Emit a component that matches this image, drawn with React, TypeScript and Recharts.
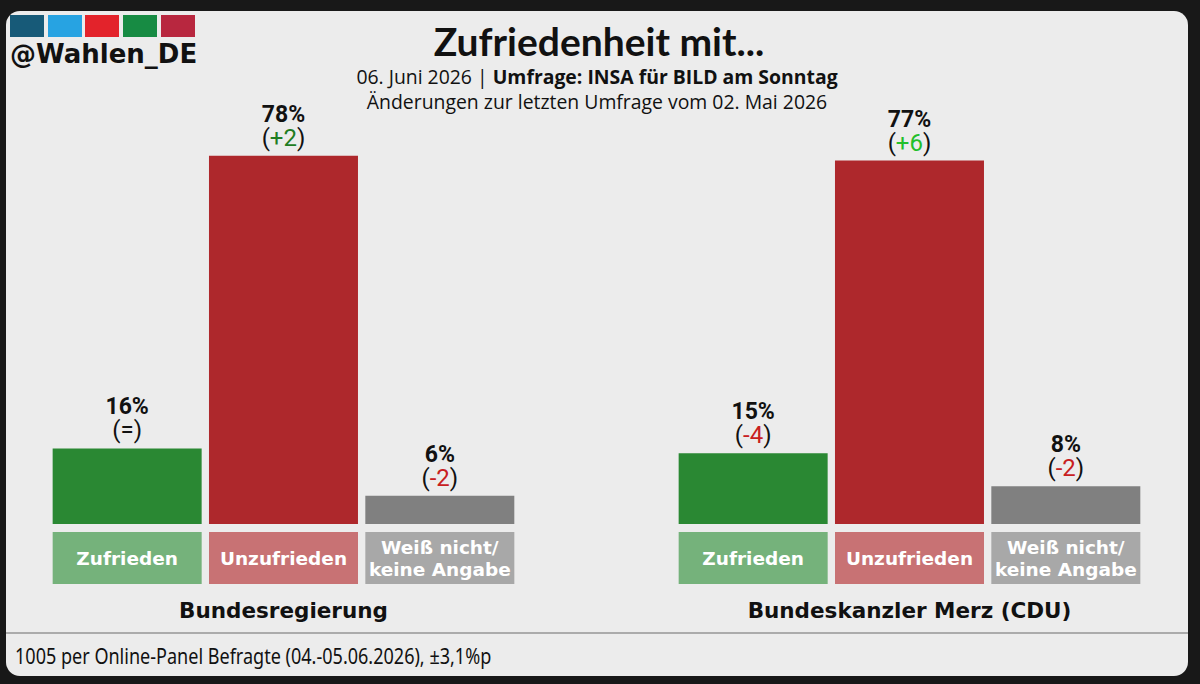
import { BarChart, Bar, XAxis, YAxis, Cell, LabelList } from 'recharts';

const categories = ['Zufrieden', 'Unzufrieden', 'Weiß nicht/\nkeine Angabe'];
const groupTitles = ['Bundesregierung', 'Bundeskanzler Merz (CDU)'];
const regierungValues = [16, 78, 6];
const regierungChanges = ['=', '+2', '-2'];
const merzValues = [15, 77, 8];
const merzChanges = ['-4', '+6', '-2'];
const logoColors = ['#175a78', '#27a3e2', '#e3232b', '#178b43', '#b8273f'];

const BAR_COLORS = ['#2a8833', '#ae282c', '#808080'];
const BOX_COLORS = ['#75b27b', '#c87274', '#a8a8a8'];
const BAR_W = 149;
const WIDE_FONT = '"DejaVu Sans", sans-serif';

function changeColor(c: string) {
  if (c === '=') return '#111';
  const n = parseInt(c, 10);
  if (n < 0) return '#c8201f';
  return n >= 5 ? '#22bf2a' : '#1f7d22';
}

function CategoryTick(props: any) {
  const { x, y, payload } = props;
  const lines = String(payload.value).split('\n');
  return (
    <g>
      <rect x={x - BAR_W / 2} y={y} width={BAR_W} height={52} fill={BOX_COLORS[payload.index]} />
      {lines.length === 1 ? (
        <text x={x} y={y + 33} textAnchor="middle" fill="#fff" fontFamily={WIDE_FONT} fontWeight={700} fontSize={18.5}>
          {lines[0]}
        </text>
      ) : (
        lines.map((l, i) => (
          <text key={i} x={x} y={y + 22 + i * 22} textAnchor="middle" fill="#fff" fontFamily={WIDE_FONT} fontWeight={700} fontSize={18.5}>
            {l}
          </text>
        ))
      )}
    </g>
  );
}

function Group({ title, values, changes, left }: { title: string; values: number[]; changes: string[]; left: number }) {
  const data = categories.map((c, i) => ({ category: c, value: values[i], change: changes[i] }));
  const renderLabel = (p: any) => {
    const cx = p.x + p.width / 2;
    const top = p.y;
    const ch = data[p.index].change;
    return (
      <g>
        <text x={cx} y={top - 34} textAnchor="middle" fontFamily="Roboto" fontWeight={700} fontSize={23} fill="#111">
          {p.value}%
        </text>
        <text x={cx} y={top - 10} textAnchor="middle" fontFamily="Roboto" fontSize={24} fill="#111">
          <tspan>(</tspan>
          <tspan fill={changeColor(ch)}>{ch}</tspan>
          <tspan>)</tspan>
        </text>
      </g>
    );
  };
  return (
    <div style={{ position: 'absolute', left, top: 0 }}>
      <BarChart width={469} height={684} data={data} margin={{ top: 52, right: 0, left: 0, bottom: 0 }} barCategoryGap={3.65}>
        <YAxis hide domain={[0, 100]} />
        <XAxis
          dataKey="category"
          height={160}
          axisLine={false}
          tickLine={false}
          tickSize={0}
          tickMargin={8}
          interval={0}
          tick={<CategoryTick />}
          label={{ value: title, position: 'insideBottom', offset: 66, fill: '#111', fontSize: 21.5, fontWeight: 700, fontFamily: WIDE_FONT }}
        />
        <Bar dataKey="value" isAnimationActive={false}>
          {data.map((_, i) => (
            <Cell key={i} fill={BAR_COLORS[i]} />
          ))}
          <LabelList dataKey="value" content={renderLabel} />
        </Bar>
      </BarChart>
    </div>
  );
}

export default function App() {
  return (
    <div style={{ position: 'fixed', left: 0, top: 0, width: 1200, height: 684, background: '#181818', overflow: 'hidden' }}>
      <div style={{ position: 'absolute', left: 6, top: 11, width: 1182, height: 665, background: '#ececec', borderRadius: 14 }} />
      {logoColors.map((c, i) => (
        <div key={c} style={{ position: 'absolute', left: 10 + i * 37.7, top: 15, width: 34, height: 22, background: c }} />
      ))}
      <div style={{ position: 'absolute', left: 10, top: 38.5, fontFamily: WIDE_FONT, fontWeight: 700, fontSize: 26, color: '#111', whiteSpace: 'nowrap' }}>
        @Wahlen_DE
      </div>
      <div style={{ position: 'absolute', left: 0, width: 1198, top: 17.5, textAlign: 'center', fontFamily: 'Lato', fontWeight: 700, fontSize: 39, color: '#111' }}>
        Zufriedenheit mit...
      </div>
      <div style={{ position: 'absolute', left: 0, width: 1194, top: 64, textAlign: 'center', fontFamily: '"Open Sans"', fontSize: 19.4, color: '#111', lineHeight: '25px' }}>
        06. Juni 2026 | <b>Umfrage: INSA für BILD am Sonntag</b>
        <br />
        Änderungen zur letzten Umfrage vom 02. Mai 2026
      </div>
      <Group title={groupTitles[0]} values={regierungValues} changes={regierungChanges} left={49} />
      <Group title={groupTitles[1]} values={merzValues} changes={merzChanges} left={675} />
      <div style={{ position: 'absolute', left: 6, width: 1182, top: 632, height: 2, background: '#ababab' }} />
      <div
        style={{
          position: 'absolute',
          left: 15,
          top: 639.5,
          fontFamily: '"Noto Sans"',
          fontSize: 22,
          color: '#111',
          whiteSpace: 'nowrap',
          transform: 'scaleX(0.82)',
          transformOrigin: 'left top',
        }}
      >
        1005 per Online-Panel Befragte (04.-05.06.2026), ±3,1%p
      </div>
    </div>
  );
}
